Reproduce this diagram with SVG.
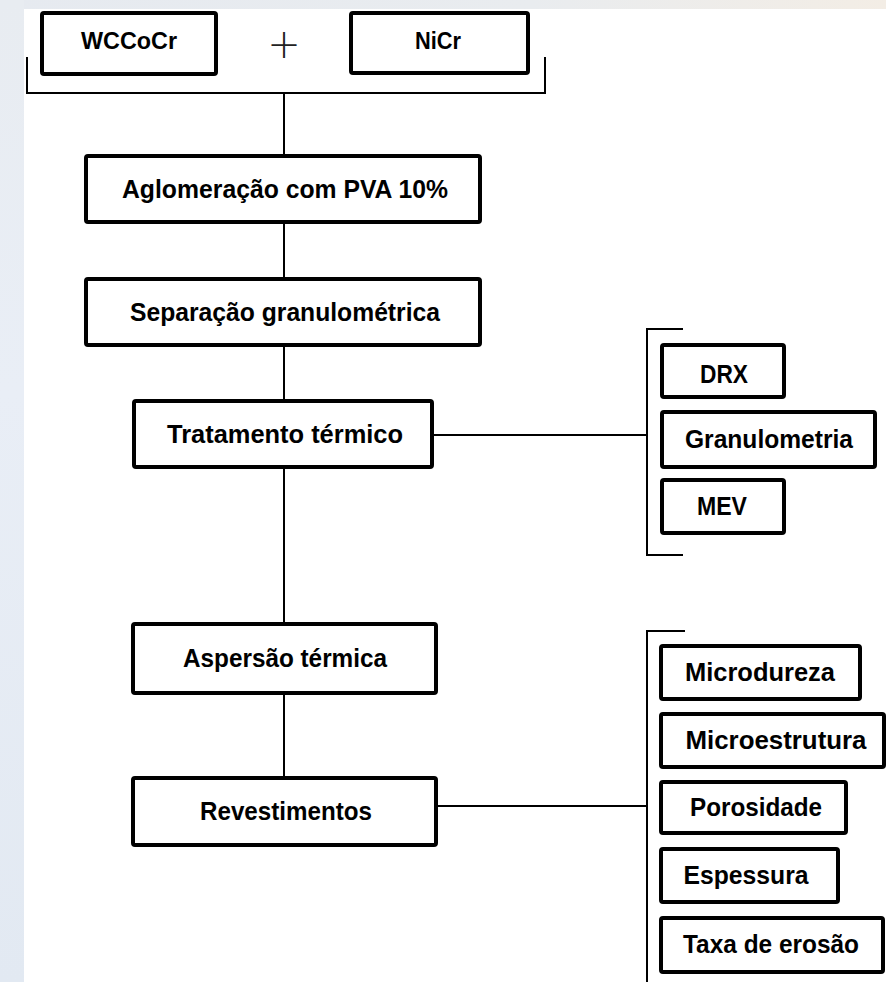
<svg xmlns="http://www.w3.org/2000/svg" width="886" height="982" viewBox="0 0 886 982">
<style>
.box{fill:#fff;stroke:#000;stroke-width:4}
.ln{fill:none;stroke:#000;stroke-width:2}
.t{font-family:"Liberation Sans",Arial,sans-serif;font-weight:bold;font-size:25px;fill:#000;text-anchor:middle}
.s{font-size:23px}
</style>
<defs>
<linearGradient id="topg" x1="0" y1="0" x2="1" y2="0">
<stop offset="0" stop-color="#e6eaf0"/>
<stop offset="0.6" stop-color="#e9ecef"/>
<stop offset="1" stop-color="#f3ede5"/>
</linearGradient>
<linearGradient id="leftg" x1="0" y1="0" x2="0" y2="1">
<stop offset="0" stop-color="#e8ecf1"/>
<stop offset="0.4" stop-color="#e9eef6"/>
<stop offset="1" stop-color="#e2e9f2"/>
</linearGradient>
</defs>
<rect x="0" y="0" width="886" height="982" fill="#fff"/>
<rect x="0" y="0" width="886" height="9" fill="url(#topg)"/>
<rect x="0" y="0" width="24" height="982" fill="url(#leftg)"/>

<g id="connectors">
<path class="ln" d="M27,57 V93 H545 V57"/>
<path class="ln" d="M284,93 V155"/>
<path class="ln" d="M284,222 V278"/>
<path class="ln" d="M284,345 V400"/>
<path class="ln" d="M284,467 V623"/>
<path class="ln" d="M284,693 V777"/>
<path class="ln" d="M432,435 H647"/>
<path class="ln" d="M683,329 H647 V555 H683"/>
<path class="ln" d="M436,806 H647"/>
<path class="ln" d="M685,631 H647 V982"/>
</g>

<g id="wccocr">
<rect class="box" x="42" y="13" width="174" height="61" rx="2"/>
<text class="t s" x="129" y="49" textLength="96" lengthAdjust="spacingAndGlyphs">WCCoCr</text>
</g>
<g id="plus">
<text x="284" y="58" font-family="DejaVu Sans,sans-serif" font-weight="200" font-size="40" text-anchor="middle" fill="#222">+</text>
</g>
<g id="nicr">
<rect class="box" x="351" y="13" width="177" height="60" rx="2"/>
<text class="t s" x="438" y="49" textLength="46" lengthAdjust="spacingAndGlyphs">NiCr</text>
</g>
<g id="aglomeracao">
<rect class="box" x="86" y="156" width="394" height="66" rx="2"/>
<text class="t" x="285" y="198" textLength="326" lengthAdjust="spacingAndGlyphs">Aglomeração com PVA 10%</text>
</g>
<g id="separacao">
<rect class="box" x="86" y="279" width="394" height="66" rx="2"/>
<text class="t" x="285" y="321" textLength="310" lengthAdjust="spacingAndGlyphs">Separação granulométrica</text>
</g>
<g id="tratamento">
<rect class="box" x="134" y="401" width="298" height="66" rx="2"/>
<text class="t" x="285" y="443" textLength="236" lengthAdjust="spacingAndGlyphs">Tratamento térmico</text>
</g>
<g id="drx">
<rect class="box" x="662" y="345" width="122" height="52" rx="2"/>
<text class="t" x="724" y="383" textLength="48" lengthAdjust="spacingAndGlyphs">DRX</text>
</g>
<g id="granulometria">
<rect class="box" x="662" y="412" width="213" height="55" rx="2"/>
<text class="t" x="769" y="448" textLength="168" lengthAdjust="spacingAndGlyphs">Granulometria</text>
</g>
<g id="mev">
<rect class="box" x="662" y="480" width="122" height="53" rx="2"/>
<text class="t" x="722" y="515" textLength="50" lengthAdjust="spacingAndGlyphs">MEV</text>
</g>
<g id="aspersao">
<rect class="box" x="133" y="624" width="303" height="69" rx="2"/>
<text class="t" x="285" y="667" textLength="204" lengthAdjust="spacingAndGlyphs">Aspersão térmica</text>
</g>
<g id="revestimentos">
<rect class="box" x="133" y="778" width="303" height="67" rx="2"/>
<text class="t" x="286" y="820" textLength="172" lengthAdjust="spacingAndGlyphs">Revestimentos</text>
</g>
<g id="microdureza">
<rect class="box" x="661" y="646" width="199" height="53" rx="2"/>
<text class="t" x="760" y="681" textLength="150" lengthAdjust="spacingAndGlyphs">Microdureza</text>
</g>
<g id="microestrutura">
<rect class="box" x="661" y="714" width="223" height="53" rx="2"/>
<text class="t" x="776" y="749" textLength="181" lengthAdjust="spacingAndGlyphs">Microestrutura</text>
</g>
<g id="porosidade">
<rect class="box" x="661" y="782" width="185" height="51" rx="2"/>
<text class="t" x="756" y="816" textLength="132" lengthAdjust="spacingAndGlyphs">Porosidade</text>
</g>
<g id="espessura">
<rect class="box" x="661" y="849" width="177" height="53" rx="2"/>
<text class="t" x="746" y="884" textLength="125" lengthAdjust="spacingAndGlyphs">Espessura</text>
</g>
<g id="taxa">
<rect class="box" x="661" y="918" width="222" height="54" rx="2"/>
<text class="t" x="771" y="953" textLength="176" lengthAdjust="spacingAndGlyphs">Taxa de erosão</text>
</g>
</svg>
